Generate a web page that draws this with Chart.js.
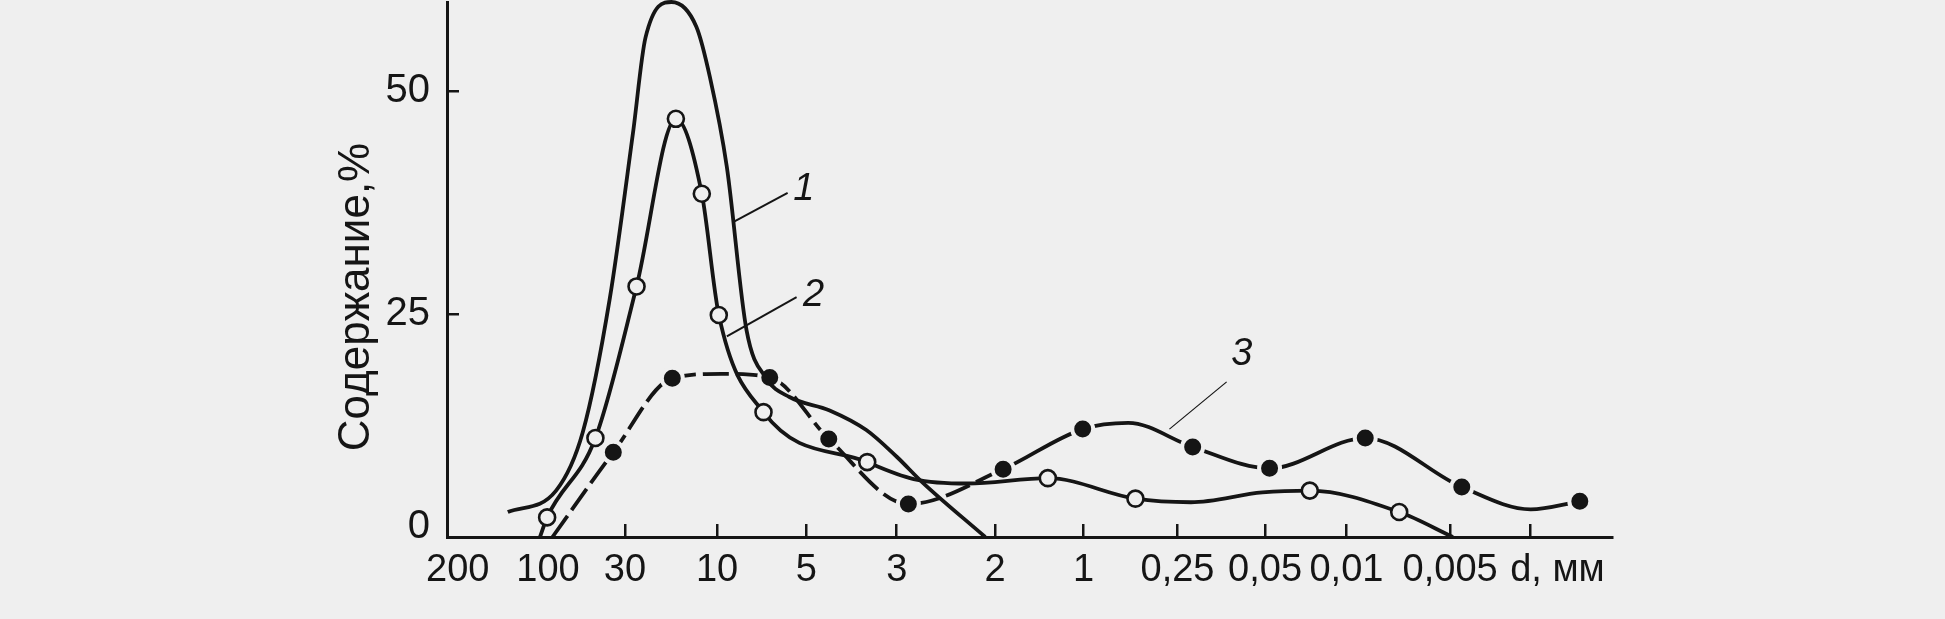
<!DOCTYPE html>
<html lang="ru">
<head>
<meta charset="utf-8">
<title>Содержание фракций</title>
<script src="https://cdn.jsdelivr.net/npm/chart.js@4.4.1/dist/chart.umd.min.js"></script>
<style>
  html, body { margin: 0; padding: 0; background: #efefef; }
  #wrap { width: 1945px; height: 619px; }
</style>
</head>
<body>
<div id="wrap"><canvas id="grainChart" width="1945" height="619"></canvas></div>
<script>
// x axis: fraction size d, mm (roughly equal steps between labels)
const sizeLabels = ["200", "100", "30", "10", "5", "3", "2", "1", "0,25", "0,05", "0,01", "0,005", ""];
const sizeTicks = [0, 1.01, 1.87, 2.9, 3.9, 4.91, 6.01, 7.0, 8.05, 9.03, 9.94, 11.1, 12.0];
const unitLabel = "d, мм";
const unitTick = 12.3;
const yTicks = [0, 25, 50];

// curve 1 - plain line
const curve1X = [0.56, 1.1, 1.4, 1.7, 1.96, 2.1, 2.39, 2.67, 2.82, 3.01, 3.23, 3.45, 3.71, 4.16, 4.57, 4.91, 5.2, 5.9];
const curve1Y = [2.8, 5.2, 11.8, 26.7, 45.3, 56.0, 60.0, 57.2, 51.6, 41.5, 23.2, 17.8, 15.7, 14.2, 12.0, 9.0, 6.1, 0];

// curve 2 - open circles
const curve2X = [0.92, 1.0, 1.54, 2.0, 2.44, 2.73, 2.92, 3.42, 4.58, 5.1, 5.7, 6.6, 7.58, 8.2, 9.0, 9.53, 10.53, 11.13];
const curve2Y = [0, 2.2, 11.1, 28.1, 46.9, 38.5, 24.9, 14.0, 8.4, 6.5, 6.0, 6.6, 4.3, 3.9, 5.0, 5.2, 2.8, 0];
const curve2Dot = [0, 1, 1, 1, 1, 1, 1, 1, 1, 0, 0, 1, 1, 0, 0, 1, 1, 0];

// curve 3 - filled circles
const curve3X = [1.06, 1.74, 2.4, 2.95, 3.49, 4.15, 5.04, 6.1, 6.99, 7.5, 8.22, 9.08, 10.15, 11.23, 12.0, 12.55];
const curve3Y = [0, 9.5, 17.8, 18.3, 17.9, 11.0, 3.7, 7.6, 12.1, 12.8, 10.1, 7.7, 11.1, 5.6, 3.1, 4.0];
const curve3Dot = [0, 1, 1, 0, 1, 1, 1, 1, 1, 0, 1, 1, 1, 1, 0, 1];

// curve numbers and their leader lines
const noteText = ["1", "2", "3"];
const noteX = [3.87, 3.98, 8.77];
const noteY = [39.0, 27.1, 20.5];
const leadFromX = [3.08, 3.01, 7.96];
const leadFromY = [35.3, 22.5, 12.1];
const leadToX = [3.69, 3.79, 8.6];
const leadToY = [38.6, 26.9, 17.4];

const ink = "#151515";
const paper = "#efefef";
const font = "'Liberation Sans', Arial, sans-serif";

function pts(xs, ys) {
  return xs.map((x, i) => ({ x: x, y: ys[i] }));
}

const extras = {
  id: "extras",
  afterDatasetsDraw(chart) {
    const { ctx, scales: { x, y } } = chart;
    ctx.save();
    // leader lines
    ctx.strokeStyle = ink;
    for (let i = 0; i < noteText.length; i++) {
      ctx.lineWidth = i === 2 ? 1.2 : 2;
      ctx.beginPath();
      ctx.moveTo(x.getPixelForValue(leadFromX[i]), y.getPixelForValue(leadFromY[i]));
      ctx.lineTo(x.getPixelForValue(leadToX[i]), y.getPixelForValue(leadToY[i]));
      ctx.stroke();
    }
    ctx.fillStyle = ink;
    ctx.font = "italic 38px " + font;
    ctx.textAlign = "center";
    ctx.textBaseline = "middle";
    noteText.forEach((t, i) => {
      ctx.fillText(t, x.getPixelForValue(noteX[i]), y.getPixelForValue(noteY[i]));
    });
    // y axis title
    ctx.translate(357, 297);
    ctx.rotate(-Math.PI / 2);
    ctx.font = "44px " + font;
    ctx.fillText("Содержание,%", 0, 0);
    ctx.restore();
  }
};

new Chart(document.getElementById("grainChart"), {
  type: "line",
  data: {
    datasets: [
      {
        data: pts(curve1X, curve1Y),
        borderColor: ink,
        borderWidth: 3.8,
        pointRadius: 0
      },
      {
        data: pts(curve2X, curve2Y),
        borderColor: ink,
        borderWidth: 3.8,
        pointRadius: (c) => curve2Dot[c.dataIndex] ? 8 : 0,
        pointBackgroundColor: paper,
        pointBorderColor: ink,
        pointBorderWidth: 2.6
      },
      {
        data: pts(curve3X, curve3Y),
        borderColor: ink,
        borderWidth: 3.8,
        segment: {
          borderDash: (c) => c.p1.parsed.x <= 6.2 ? [26, 7] : []
        },
        pointRadius: (c) => curve3Dot[c.dataIndex] ? 10.5 : 0,
        pointBackgroundColor: ink,
        pointBorderColor: paper,
        pointBorderWidth: 4
      }
    ]
  },
  options: {
    responsive: false,
    animation: false,
    events: [],
    clip: false,
    layout: { autoPadding: false, padding: { left: 0, right: 333, top: 2, bottom: 0 } },
    elements: {
      line: { tension: 0.4, cubicInterpolationMode: "monotone", fill: false }
    },
    plugins: {
      legend: { display: false },
      tooltip: { enabled: false }
    },
    scales: {
      x: {
        type: "linear",
        min: -0.12,
        max: 12.91,
        afterBuildTicks: (axis) => {
          axis.ticks = sizeTicks.concat([unitTick]).map((v) => ({ value: v }));
        },
        afterFit: (s) => {
          s.height = 82;
          s.paddingLeft = 0;
          s.paddingRight = 0;
        },
        ticks: {
          autoSkip: false,
          maxRotation: 0,
          minRotation: 0,
          padding: 24,
          color: ink,
          font: { family: font, size: 38 },
          callback: (v, i) => i < sizeLabels.length ? sizeLabels[i] : unitLabel
        },
        grid: {
          drawOnChartArea: false,
          tickLength: -13,
          lineWidth: 2.5,
          tickColor: (c) => (c.index < 2 || c.index > 12) ? "rgba(0,0,0,0)" : ink
        },
        border: { color: ink, width: 3 }
      },
      y: {
        min: 0,
        max: 60,
        afterBuildTicks: (axis) => {
          axis.ticks = yTicks.map((v) => ({ value: v }));
        },
        afterFit: (s) => {
          s.width = 447;
          s.paddingTop = 0;
          s.paddingBottom = 0;
        },
        ticks: {
          padding: 29,
          color: ink,
          font: { family: font, size: 40, lineHeight: 0.5 },
          // the zero sits a little above the x axis, as in the original
          callback: (v) => v === 0 ? ["0", ""] : String(v)
        },
        grid: {
          drawOnChartArea: false,
          tickLength: -12,
          lineWidth: 2.5,
          tickColor: (c) => c.tick && c.tick.value === 0 ? "rgba(0,0,0,0)" : ink
        },
        border: { color: ink, width: 3 }
      }
    }
  },
  plugins: [extras]
});
</script>
</body>
</html>
